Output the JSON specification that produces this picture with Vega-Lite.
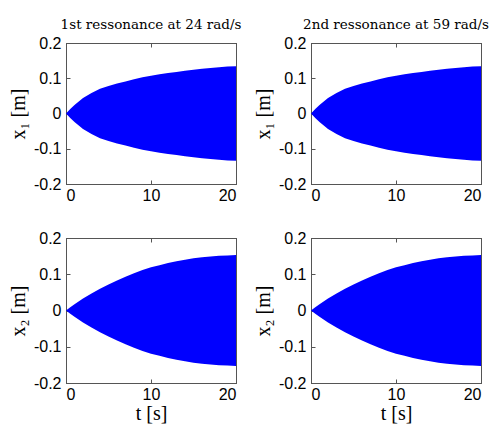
{
  "$schema": "https://vega.github.io/schema/vega-lite/v6.json",
  "padding": {"left": 7, "top": 17, "right": 5, "bottom": 5},
  "background": "white",
  "datasets": {
    "x1": [
      {"t": 0, "hi": 0, "lo": 0},
      {"t": 0.5, "hi": 0.013, "lo": -0.013},
      {"t": 1, "hi": 0.024, "lo": -0.024},
      {"t": 2, "hi": 0.044, "lo": -0.044},
      {"t": 3, "hi": 0.058, "lo": -0.058},
      {"t": 4, "hi": 0.07, "lo": -0.07},
      {"t": 5, "hi": 0.078, "lo": -0.078},
      {"t": 6, "hi": 0.085, "lo": -0.085},
      {"t": 7, "hi": 0.091, "lo": -0.091},
      {"t": 8, "hi": 0.097, "lo": -0.097},
      {"t": 9, "hi": 0.103, "lo": -0.103},
      {"t": 10, "hi": 0.107, "lo": -0.107},
      {"t": 11, "hi": 0.111, "lo": -0.111},
      {"t": 12, "hi": 0.115, "lo": -0.115},
      {"t": 13, "hi": 0.118, "lo": -0.118},
      {"t": 14, "hi": 0.121, "lo": -0.121},
      {"t": 15, "hi": 0.124, "lo": -0.124},
      {"t": 16, "hi": 0.127, "lo": -0.127},
      {"t": 17, "hi": 0.129, "lo": -0.129},
      {"t": 18, "hi": 0.131, "lo": -0.131},
      {"t": 19, "hi": 0.133, "lo": -0.133},
      {"t": 20, "hi": 0.134, "lo": -0.134}
    ],
    "x2": [
      {"t": 0, "hi": 0, "lo": 0},
      {"t": 0.5, "hi": 0.009, "lo": -0.009},
      {"t": 1, "hi": 0.017, "lo": -0.017},
      {"t": 2, "hi": 0.033, "lo": -0.033},
      {"t": 3, "hi": 0.047, "lo": -0.047},
      {"t": 4, "hi": 0.06, "lo": -0.06},
      {"t": 5, "hi": 0.072, "lo": -0.072},
      {"t": 6, "hi": 0.083, "lo": -0.083},
      {"t": 7, "hi": 0.093, "lo": -0.093},
      {"t": 8, "hi": 0.103, "lo": -0.103},
      {"t": 9, "hi": 0.112, "lo": -0.112},
      {"t": 10, "hi": 0.119, "lo": -0.119},
      {"t": 11, "hi": 0.125, "lo": -0.125},
      {"t": 12, "hi": 0.131, "lo": -0.131},
      {"t": 13, "hi": 0.136, "lo": -0.136},
      {"t": 14, "hi": 0.14, "lo": -0.14},
      {"t": 15, "hi": 0.144, "lo": -0.144},
      {"t": 16, "hi": 0.147, "lo": -0.147},
      {"t": 17, "hi": 0.149, "lo": -0.149},
      {"t": 18, "hi": 0.151, "lo": -0.151},
      {"t": 19, "hi": 0.152, "lo": -0.152},
      {"t": 20, "hi": 0.153, "lo": -0.153}
    ]
  },
  "columns": 2,
  "spacing": {"row": 54, "column": 75},
  "bounds": "flush",
  "config": {
    "view": {"stroke": "#555555", "strokeWidth": 1},
    "axis": {
      "grid": false,
      "domainColor": "#555555",
      "tickColor": "#555555",
      "tickSize": -4,
      "labelFont": "Liberation Sans",
      "labelFontSize": 16,
      "labelColor": "black",
      "titleFont": "Liberation Serif",
      "titleFontSize": 20,
      "titleFontWeight": "normal",
      "titleColor": "black",
      "titlePadding": 5
    },
    "axisX": {"labelPadding": 7, "titlePadding": 1},
    "axisY": {"labelPadding": 9},
    "title": {"font": "DejaVu Serif", "fontSize": 13.5, "fontWeight": "normal", "color": "black", "offset": 0}
  },
  "concat": [
    {
      "title": "1st ressonance at 24 rad/s",
      "width": 170, "height": 141,
      "data": {"name": "x1"},
      "encoding": {
        "x": {"field": "t", "type": "quantitative", "scale": {"domain": [0, 20], "nice": false}},
        "y": {"field": "hi", "type": "quantitative", "scale": {"domain": [-0.2, 0.2], "nice": false}},
        "y2": {"field": "lo"}
      },
      "layer": [
        {
          "mark": {"type": "area", "color": "#0000FF", "opacity": 1},
          "encoding": {
            "x": {"field": "t", "type": "quantitative", "axis": {"values": [0, 10, 20], "title": null}},
            "y": {"field": "hi", "type": "quantitative", "axis": {"values": [-0.2, -0.1, 0, 0.1, 0.2], "title": "x₁ [m]", "labelExpr": "datum.value == 0 ? '0' : (datum.value < 0 ? '-' + format(-datum.value, '.1f') : format(datum.value, '.1f'))"}}
          }
        },
        {
          "mark": {"type": "area", "opacity": 0},
          "encoding": {
            "x": {"field": "t", "type": "quantitative", "axis": {"orient": "top", "values": [0, 10, 20], "title": null, "labels": false}},
            "y": {"field": "hi", "type": "quantitative", "axis": {"orient": "right", "values": [-0.2, -0.1, 0, 0.1, 0.2], "title": null, "labels": false}}
          }
        }
      ],
      "resolve": {"axis": {"x": "independent", "y": "independent"}}
    },
    {
      "title": "2nd ressonance at 59 rad/s",
      "width": 170, "height": 141,
      "data": {"name": "x1"},
      "encoding": {
        "x": {"field": "t", "type": "quantitative", "scale": {"domain": [0, 20], "nice": false}},
        "y": {"field": "hi", "type": "quantitative", "scale": {"domain": [-0.2, 0.2], "nice": false}},
        "y2": {"field": "lo"}
      },
      "layer": [
        {
          "mark": {"type": "area", "color": "#0000FF", "opacity": 1},
          "encoding": {
            "x": {"field": "t", "type": "quantitative", "axis": {"values": [0, 10, 20], "title": null}},
            "y": {"field": "hi", "type": "quantitative", "axis": {"values": [-0.2, -0.1, 0, 0.1, 0.2], "title": "x₁ [m]", "labelExpr": "datum.value == 0 ? '0' : (datum.value < 0 ? '-' + format(-datum.value, '.1f') : format(datum.value, '.1f'))"}}
          }
        },
        {
          "mark": {"type": "area", "opacity": 0},
          "encoding": {
            "x": {"field": "t", "type": "quantitative", "axis": {"orient": "top", "values": [0, 10, 20], "title": null, "labels": false}},
            "y": {"field": "hi", "type": "quantitative", "axis": {"orient": "right", "values": [-0.2, -0.1, 0, 0.1, 0.2], "title": null, "labels": false}}
          }
        }
      ],
      "resolve": {"axis": {"x": "independent", "y": "independent"}}
    },
    {
      "width": 170, "height": 145,
      "data": {"name": "x2"},
      "encoding": {
        "x": {"field": "t", "type": "quantitative", "scale": {"domain": [0, 20], "nice": false}},
        "y": {"field": "hi", "type": "quantitative", "scale": {"domain": [-0.2, 0.2], "nice": false}},
        "y2": {"field": "lo"}
      },
      "layer": [
        {
          "mark": {"type": "area", "color": "#0000FF", "opacity": 1},
          "encoding": {
            "x": {"field": "t", "type": "quantitative", "axis": {"values": [0, 10, 20], "title": "t [s]"}},
            "y": {"field": "hi", "type": "quantitative", "axis": {"values": [-0.2, -0.1, 0, 0.1, 0.2], "title": "x₂ [m]", "labelExpr": "datum.value == 0 ? '0' : (datum.value < 0 ? '-' + format(-datum.value, '.1f') : format(datum.value, '.1f'))"}}
          }
        },
        {
          "mark": {"type": "area", "opacity": 0},
          "encoding": {
            "x": {"field": "t", "type": "quantitative", "axis": {"orient": "top", "values": [0, 10, 20], "title": null, "labels": false}},
            "y": {"field": "hi", "type": "quantitative", "axis": {"orient": "right", "values": [-0.2, -0.1, 0, 0.1, 0.2], "title": null, "labels": false}}
          }
        }
      ],
      "resolve": {"axis": {"x": "independent", "y": "independent"}}
    },
    {
      "width": 170, "height": 145,
      "data": {"name": "x2"},
      "encoding": {
        "x": {"field": "t", "type": "quantitative", "scale": {"domain": [0, 20], "nice": false}},
        "y": {"field": "hi", "type": "quantitative", "scale": {"domain": [-0.2, 0.2], "nice": false}},
        "y2": {"field": "lo"}
      },
      "layer": [
        {
          "mark": {"type": "area", "color": "#0000FF", "opacity": 1},
          "encoding": {
            "x": {"field": "t", "type": "quantitative", "axis": {"values": [0, 10, 20], "title": "t [s]"}},
            "y": {"field": "hi", "type": "quantitative", "axis": {"values": [-0.2, -0.1, 0, 0.1, 0.2], "title": "x₂ [m]", "labelExpr": "datum.value == 0 ? '0' : (datum.value < 0 ? '-' + format(-datum.value, '.1f') : format(datum.value, '.1f'))"}}
          }
        },
        {
          "mark": {"type": "area", "opacity": 0},
          "encoding": {
            "x": {"field": "t", "type": "quantitative", "axis": {"orient": "top", "values": [0, 10, 20], "title": null, "labels": false}},
            "y": {"field": "hi", "type": "quantitative", "axis": {"orient": "right", "values": [-0.2, -0.1, 0, 0.1, 0.2], "title": null, "labels": false}}
          }
        }
      ],
      "resolve": {"axis": {"x": "independent", "y": "independent"}}
    }
  ]
}
